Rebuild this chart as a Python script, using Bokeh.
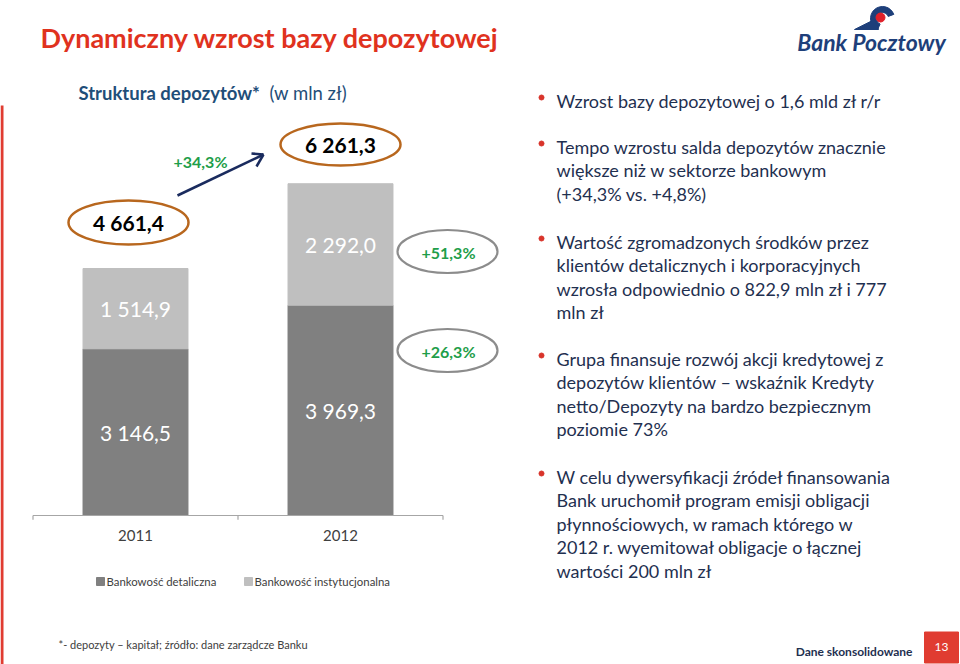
from bokeh.plotting import figure
from bokeh.models import Range1d, ColumnDataSource
from bokeh.core.properties import value
from bokeh.embed import file_html
from bokeh.resources import INLINE

# ---- data ----
years = ["2011", "2012"]
retail = [3146.5, 3969.3]          # Bankowość detaliczna
institutional = [1514.9, 2292.0]   # Bankowość instytucjonalna
growth_total = "+34,3%"
growth_inst = "+51,3%"
growth_retail = "+26,3%"
series_names = ["Bankowość detaliczna", "Bankowość instytucjonalna"]
bar_colors = ["#808080", "#bfbfbf"]

title_text = "Dynamiczny wzrost bazy depozytowej"
subtitle_bold = "Struktura depozytów*"
subtitle_norm = "(w mln zł)"
bullets = [
    ["Wzrost bazy depozytowej o 1,6 mld zł r/r"],
    ["Tempo wzrostu salda depozytów znacznie", "większe niż w sektorze bankowym", "(+34,3% vs. +4,8%)"],
    ["Wartość zgromadzonych środków przez", "klientów detalicznych i korporacyjnych",
     "wzrosła odpowiednio o 822,9 mln zł i 777", "mln zł"],
    ["Grupa finansuje rozwój akcji kredytowej z", "depozytów klientów – wskaźnik Kredyty",
     "netto/Depozyty na bardzo bezpiecznym", "poziomie 73%"],
    ["W celu dywersyfikacji źródeł finansowania", "Bank uruchomił program emisji obligacji",
     "płynnościowych, w ramach którego w", "2012 r. wyemitował obligacje o łącznej",
     "wartości 200 mln zł"],
]
footnote = "*- depozyty – kapitał; źródło: dane zarządcze Banku"
footer_label = "Dane skonsolidowane"
page_no = "13"


def fmt(v):
    return f"{v:,.1f}".replace(",", " ").replace(".", ",")


W, H = 960, 664
FONT = value("Lato")

p = figure(width=W, height=H, x_range=Range1d(0, W), y_range=Range1d(H, 0),
           output_backend="svg", toolbar_location=None, min_border=0)
p.axis.visible = False
p.grid.visible = False
p.outline_line_color = None
p.background_fill_color = "white"
p.border_fill_color = "white"

# chart ranges (value axis & category index axis)
px_per_unit = 205.0
x0_px = 135.0
p.extra_x_ranges = {"cat": Range1d(-x0_px / px_per_unit, (W - x0_px) / px_per_unit)}
base_px = 515.0
scale = 247.0 / 4661.4
p.extra_y_ranges = {"val": Range1d(-(H - base_px) / scale, base_px / scale)}

idx = list(range(len(years)))
tot = [a + b for a, b in zip(retail, institutional)]
src = ColumnDataSource(dict(x=idx, retail=retail, inst=institutional, tot=tot,
                            mid_r=[r / 2 for r in retail],
                            mid_i=[r + i / 2 for r, i in zip(retail, institutional)],
                            lab_r=[fmt(v) for v in retail],
                            lab_i=[fmt(v) for v in institutional],
                            zero=[0] * len(years), years=years))

p.vbar(x="x", bottom="zero", top="retail", width=0.512, source=src, color=bar_colors[0],
       x_range_name="cat", y_range_name="val")
p.vbar(x="x", bottom="retail", top="tot", width=0.512, source=src, color=bar_colors[1],
       x_range_name="cat", y_range_name="val")
p.text(x="x", y="mid_r", text="lab_r", source=src, x_range_name="cat", y_range_name="val",
       text_align="center", text_baseline="middle", text_color="white",
       text_font_size="21px", text_font=FONT)
p.text(x="x", y="mid_i", text="lab_i", source=src, x_range_name="cat", y_range_name="val",
       text_align="center", text_baseline="middle", text_color="white",
       text_font_size="21px", text_font=FONT)

# category axis line with ticks
n = len(years)
p.segment(x0=[-0.5], y0=[0], x1=[n - 0.5], y1=[0], x_range_name="cat", y_range_name="val",
          line_color="#a6a6a6", line_width=1.2)
p.segment(x0=[i - 0.5 for i in range(n + 1)], y0=[0] * (n + 1),
          x1=[i - 0.5 for i in range(n + 1)], y1=[-80] * (n + 1),
          x_range_name="cat", y_range_name="val", line_color="#a6a6a6", line_width=1.2)
p.text(x="x", y="zero", text="years", source=src, x_range_name="cat", y_range_name="val",
       y_offset=20, text_align="center", text_baseline="middle", text_color="#404040",
       text_font_size="15px", text_font=FONT)

# legend
p.rect(x=[100, 248], y=[581, 581], width=8, height=8, color=bar_colors)
p.text(x=[106, 254], y=[581, 581], text=series_names, text_baseline="middle",
       text_color="#404040", text_font_size="11.4px", text_font=FONT)

# total ellipses
p.ellipse(x=[128, 340], y=[222, 144], width=[120, 120], height=[44, 42],
          fill_color=None, line_color="#b8671e", line_width=2.5)
p.text(x=[128, 340], y=[222, 144], text=[fmt(tot[0]), fmt(tot[1])], text_align="center",
       text_baseline="middle", text_color="black", text_font_size="21px",
       text_font_style="bold", text_font=FONT)

# growth ellipses
p.ellipse(x=[447, 447], y=[251, 350], width=[100, 100], height=[43, 43],
          fill_color="white", line_color="#8c8c8c", line_width=2.2)
p.text(x=[448, 448, 200], y=[252, 351, 161], text=[growth_inst, growth_retail, growth_total],
       text_align="center", text_baseline="middle", text_color="#1f9e4a",
       text_font_size="16px", text_font_style="bold", text_font=FONT)

# arrow
p.segment(x0=[177], y0=[195], x1=[263], y1=[154], line_color="#1a2b5e", line_width=2.5)
p.segment(x0=[251, 256], y0=[153, 166], x1=[263, 263], y1=[154, 154],
          line_color="#1a2b5e", line_width=2.5)

# title / subtitle
p.text(x=[40], y=[37], text=[title_text], text_baseline="middle", text_color="#e0321e",
       text_font_size="27px", text_font_style="bold", text_font=FONT)
p.text(x=[78], y=[92], text=[subtitle_bold], text_baseline="middle", text_color="#1f4e79",
       text_font_size="18.5px", text_font_style="bold", text_font=FONT)
p.text(x=[269], y=[92], text=[subtitle_norm], text_baseline="middle", text_color="#1f4e79",
       text_font_size="18.5px", text_font=FONT)

# left red line
p.segment(x0=[1.5], y0=[105], x1=[1.5], y1=[664], line_color="#e03c31", line_width=3)

# bullets
bullet_y = [100, 146, 241, 358, 476]
lh = 23.5
bx, by, tx, ty, tt = [], [], [], [], []
for y0, lines in zip(bullet_y, bullets):
    bx.append(541)
    by.append(y0 - 3)
    for k, line in enumerate(lines):
        tx.append(556)
        ty.append(y0 + k * lh)
        tt.append(line)
p.scatter(x=bx, y=by, size=5, color="#d9342b")
p.text(x=tx, y=ty, text=tt, text_baseline="middle", text_color="#1f3050",
       text_font_size="18px", text_font=FONT)

# logo
p.annular_wedge(x=[882], y=[18], inner_radius=6, outer_radius=12, start_angle=0.35,
                end_angle=4.3, color="#1e3f7a")
p.patch(x=[854, 874, 878], y=[29, 19, 29], color="#1e3f7a")
p.scatter(x=[880], y=[17], size=9, color="#e0202a")
p.text(x=[871], y=[41], text=["Bank Pocztowy"], text_align="center", text_baseline="middle",
       text_color="#1e3f7a", text_font_size="23px", text_font_style="bold italic",
       text_font=FONT)

# footer
p.text(x=[58], y=[644], text=[footnote], text_baseline="middle", text_color="#404040",
       text_font_size="11px", text_font=FONT)
p.text(x=[912], y=[651], text=[footer_label], text_align="right", text_baseline="middle",
       text_color="#1f3050", text_font_size="12px", text_font_style="bold", text_font=FONT)
p.rect(x=[941], y=[647], width=34, height=31, color="#e03c31")
p.text(x=[941], y=[646], text=[page_no], text_align="center", text_baseline="middle",
       text_color="white", text_font_size="12px", text_font=FONT)

open("out.html", "w").write(file_html(p, INLINE))
